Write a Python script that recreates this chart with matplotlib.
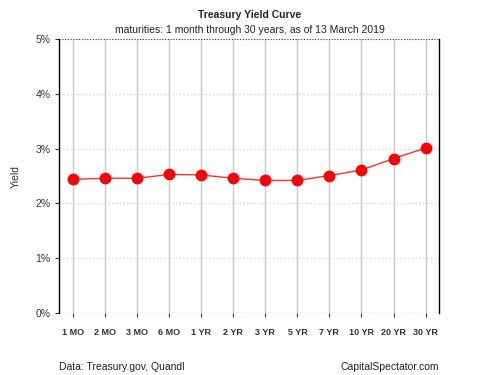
import matplotlib
matplotlib.use("Agg")
import matplotlib.pyplot as plt

# ── Data ──────────────────────────────────────────────────────────────────────
maturities = ["1 MO", "2 MO", "3 MO", "6 MO", "1 YR", "2 YR",
              "3 YR", "5 YR", "7 YR", "10 YR", "20 YR", "30 YR"]
yields     = [2.44, 2.46, 2.46, 2.53, 2.52, 2.46,
              2.42, 2.42, 2.51, 2.61, 2.82, 3.01]
y_ticks    = [0, 1, 2, 3, 4, 5]

plt.rcParams["font.family"] = ["Liberation Sans", "DejaVu Sans"]

fig = plt.figure(figsize=(5, 3.75), dpi=100, facecolor="white")
ax = fig.add_axes([0.118, 0.165, 0.76, 0.731])

x = list(range(1, len(maturities) + 1))

# grid
for xi in x:
    ax.axvline(xi, color="#c8c8c8", lw=1.0, zorder=1)
for yt in y_ticks:
    ax.axhline(yt, color="#d0d0d0", lw=0.9, ls=(0, (1, 2)), zorder=1)
ax.axhline(5, color="#404040", lw=0.8, ls=(0, (1, 1.5)), zorder=2)
ax.axhline(0, color="#404040", lw=0.8, ls=(0, (1, 1.5)), zorder=2)

ax.plot(x, yields, color="#ff3030", lw=1.0, zorder=3)
ax.plot(x, yields, "o", color="red", ms=7.5, zorder=4)

ax.set_xlim(0.56, 12.42)
ax.set_ylim(0, 5)
ax.set_yticks(y_ticks)
ax.set_yticklabels([f"{v}%" for v in y_ticks], fontsize=7.5, color="#333333")
ax.set_xticks(x)
ax.set_xticklabels(maturities, fontsize=6.5, color="#333333", fontweight="bold")
ax.tick_params(axis="x", length=3, pad=8, color="#333333")
ax.tick_params(axis="y", length=3, pad=3, color="#333333")

for s in ["top", "bottom"]:
    ax.spines[s].set_visible(False)
for s in ["left", "right"]:
    ax.spines[s].set_color("black")
    ax.spines[s].set_linewidth(1.0)

ax.set_ylabel("Yield", fontsize=7.5, color="#333333", labelpad=11)

fig.text(0.5, 0.96, "Treasury Yield Curve", ha="center", va="center",
         fontsize=7.5, fontweight="bold", color="#222222")
fig.text(0.5, 0.92, "maturities: 1 month through 30 years, as of 13 March 2019",
         ha="center", va="center", fontsize=7.5, color="#222222")
fig.text(0.118, 0.022, "Data: Treasury.gov, Quandl", ha="left", va="center",
         fontsize=7.5, color="#222222")
fig.text(0.878, 0.022, "CapitalSpectator.com", ha="right", va="center",
         fontsize=7.5, color="#222222")

fig.savefig("out.png", dpi=100)
